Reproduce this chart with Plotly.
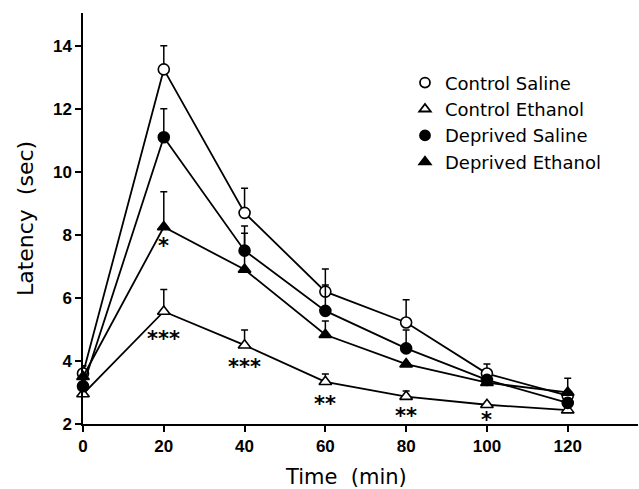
import plotly.graph_objects as go

time = [0, 20, 40, 60, 80, 100, 120]

control_saline = [3.6, 13.25, 8.7, 6.2, 5.22, 3.6, 2.9]
control_saline_err = [0.25, 0.75, 0.78, 0.72, 0.72, 0.3, 0.0]

control_ethanol = [2.95, 5.57, 4.5, 3.34, 2.87, 2.61, 2.44]
control_ethanol_err = [0.0, 0.7, 0.48, 0.25, 0.18, 0.0, 0.0]

deprived_saline = [3.2, 11.1, 7.5, 5.59, 4.4, 3.4, 2.67]
deprived_saline_err = [0.0, 0.9, 0.78, 0.82, 0.58, 0.0, 0.0]

deprived_ethanol = [3.5, 8.25, 6.9, 4.83, 3.9, 3.31, 3.0]
deprived_ethanol_err = [0.0, 1.12, 1.15, 0.44, 0.0, 0.0, 0.45]

sig_control_ethanol = ["", "***", "***", "**", "**", "*", ""]
sig_deprived_ethanol = ["", "*", "", "", "", "", ""]

# vertical pixel offsets of the significance labels below their points (style only)
sig_control_ethanol_shift = [0, -28, -22, -22, -19, -15, 0]
sig_deprived_ethanol_shift = [0, -19, 0, 0, 0, 0, 0]

series = [
    ("Control Saline", control_saline, control_saline_err, "circle", "white"),
    ("Control Ethanol", control_ethanol, control_ethanol_err, "triangle-up", "white"),
    ("Deprived Saline", deprived_saline, deprived_saline_err, "circle", "black"),
    ("Deprived Ethanol", deprived_ethanol, deprived_ethanol_err, "triangle-up", "black"),
]

fig = go.Figure()
for name, vals, err, sym, fill in series:
    fig.add_trace(go.Scatter(
        x=time, y=vals, mode="lines+markers", showlegend=False,
        line=dict(color="black", width=1.8),
        marker=dict(symbol=sym, size=11, color=fill,
                    line=dict(color="black", width=1.6)),
        error_y=dict(type="data", array=err, arrayminus=[0] * len(err), symmetric=False,
                     color="black", thickness=1.5, width=3.5),
        cliponaxis=False,
    ))

for name, vals, err, sym, fill in series:
    fig.add_trace(go.Scatter(
        x=[None], y=[None], mode="markers", name=name,
        marker=dict(symbol=sym, size=10, color=fill,
                    line=dict(color="black", width=1.8)),
    ))

star_font = dict(family="DejaVu Sans", size=21, color="black", weight="bold")
annotations = []
for t, v, s, sh in zip(time, control_ethanol, sig_control_ethanol, sig_control_ethanol_shift):
    if s:
        annotations.append(dict(x=t, y=v, text=s, showarrow=False, yanchor="middle",
                                yshift=sh, font=star_font))
for t, v, s, sh in zip(time, deprived_ethanol, sig_deprived_ethanol, sig_deprived_ethanol_shift):
    if s:
        annotations.append(dict(x=t, y=v, text=s, showarrow=False, yanchor="middle",
                                yshift=sh, font=star_font))

annotations.append(dict(x=65, y=0, xref="x", yref="paper", text="Time  (min)", showarrow=False,
                        yanchor="middle", yshift=-53,
                        font=dict(family="DejaVu Sans", size=21, color="black")))

fig.update_layout(
    width=639, height=489,
    margin=dict(l=83, r=1, t=13, b=65),
    paper_bgcolor="white", plot_bgcolor="white",
    font=dict(family="Liberation Sans", color="black"),
    annotations=annotations,
    legend=dict(x=(405 - 83) / 555, y=0.875, xanchor="left", yanchor="top",
                font=dict(family="DejaVu Sans", size=18, color="black"),
                bgcolor="rgba(0,0,0,0)", borderwidth=0),
    xaxis=dict(range=[0, 137.4], tickvals=time, showgrid=False, zeroline=False,
               showline=True, linecolor="black", linewidth=1.5,
               ticks="outside", ticklen=6, tickwidth=1.5, tickcolor="black",
               tickfont=dict(family="Liberation Sans", size=17, weight="bold", color="black")),
    yaxis=dict(range=[2, 15.04], tickvals=[2, 4, 6, 8, 10, 12, 14], showgrid=False, zeroline=False,
               showline=True, linecolor="black", linewidth=1.5,
               ticks="outside", ticklen=6, tickwidth=1.5, tickcolor="black",
               tickfont=dict(family="Liberation Sans", size=17, weight="bold", color="black"),
               title=dict(text="Latency  (sec)", standoff=13,
                          font=dict(family="DejaVu Sans", size=22, color="black"))),
)

fig.write_html("out.html", config={"displayModeBar": False},
               post_script="document.body.style.margin='0px';document.body.style.overflow='hidden';")
